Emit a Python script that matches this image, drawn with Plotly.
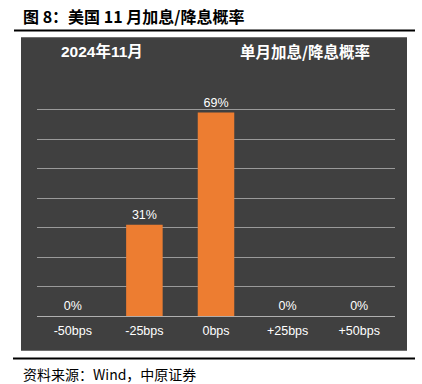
import plotly.graph_objects as go

categories = ["-50bps", "-25bps", "0bps", "+25bps", "+50bps"]
probabilities = [0, 31, 69, 0, 0]
labels = [f"{v}%" for v in probabilities]

W, H = 422, 384
def py(y):
    return 1 - y / H
def px(x):
    return x / W

fig = go.Figure()
fig.add_trace(go.Bar(
    x=categories, y=probabilities, text=labels, textposition="outside",
    textfont=dict(color="white", size=12.5, family="Liberation Sans, Arial"),
    marker=dict(color="#ED7D31", line=dict(width=0)),
    cliponaxis=False, width=0.51, hoverinfo="skip",
))

fig.update_layout(
    width=W, height=H, margin=dict(l=0, r=0, t=0, b=0),
    paper_bgcolor="white", plot_bgcolor="rgba(0,0,0,0)",
    showlegend=False,
    font=dict(family="Liberation Sans, Arial, Noto Sans CJK SC"),
    xaxis=dict(domain=[px(37), px(395)], showgrid=False, showline=False, zeroline=False,
               tickfont=dict(color="white", size=12.5, family="Liberation Sans, Arial"),
               ticks="outside", ticklen=3, tickcolor="rgba(0,0,0,0)", fixedrange=True),
    yaxis=dict(domain=[py(316.3), py(79.5)], range=[0, 80.2], dtick=10, showgrid=True,
               gridcolor="#9a9a9a", gridwidth=1, zeroline=True, zerolinecolor="#b0b0b0",
               zerolinewidth=1, showticklabels=False, showline=False, fixedrange=True),
    shapes=[
        dict(type="rect", xref="paper", yref="paper", x0=px(21), x1=px(407),
             y0=py(350.7), y1=py(37.3), fillcolor="#404040", line=dict(width=0), layer="below"),
        dict(type="line", xref="paper", yref="paper", x0=px(14), x1=px(415),
             y0=py(30.5), y1=py(30.5), line=dict(color="black", width=2)),
        dict(type="line", xref="paper", yref="paper", x0=px(13), x1=px(415),
             y0=py(358.5), y1=py(358.5), line=dict(color="black", width=2)),
    ],
    annotations=[
        dict(text="<b>图 8：美国 11 月加息/降息概率</b>", xref="paper", yref="paper",
             x=px(21), y=py(16), xanchor="left", yanchor="middle", showarrow=False,
             font=dict(size=16, color="black", family="Noto Sans CJK SC")),
        dict(text="<b>2024年11月</b>", xref="paper", yref="paper",
             x=px(59), y=py(51), xanchor="left", yanchor="middle", showarrow=False,
             font=dict(size=15.5, color="white", family="Liberation Sans, Noto Sans CJK SC")),
        dict(text="<b>单月加息/降息概率</b>", xref="paper", yref="paper",
             x=px(372), y=py(51), xanchor="right", yanchor="middle", showarrow=False,
             font=dict(size=15.5, color="white", family="Noto Sans CJK SC")),
        dict(text="资料来源：Wind，中原证券", xref="paper", yref="paper",
             x=px(21), y=py(374), xanchor="left", yanchor="middle", showarrow=False,
             font=dict(size=14, color="black", family="Noto Sans CJK SC")),
    ],
)

fig.write_html("out.html", config={"displayModeBar": False, "staticPlot": True},
               post_script="document.body.style.margin='0';")
